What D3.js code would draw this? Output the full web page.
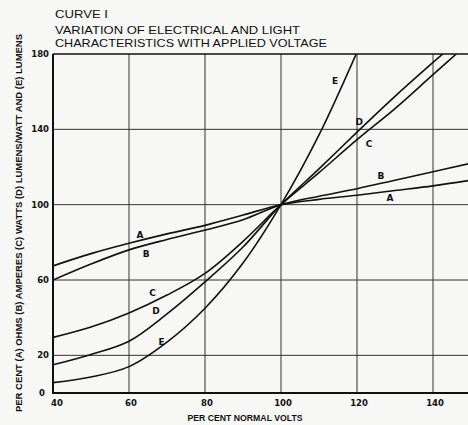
<!DOCTYPE html>
<html>
<head>
<meta charset="utf-8">
<script src="https://cdn.jsdelivr.net/npm/d3@7"></script>
<style>
  body { margin: 0; background: #f7f7f5; }
  svg { display: block; }
  text { fill: #111; }
</style>
</head>
<body>
<svg id="chart" width="468" height="425"></svg>
<script>
// per cent normal volts
const volts = [40, 50, 60, 70, 80, 90, 100, 110, 120, 130, 140, 150];

// curves (per cent of normal)
const ohmsA    = [67.5, 74, 79.5, 84.5, 89, 94.5, 100, 102.8, 105, 107.5, 110, 113];
const ampsB    = [60, 68.5, 76, 81.5, 86.5, 92, 100, 104.5, 108.5, 113, 117.5, 122];
const wattsC   = [29.5, 35, 42.5, 52, 63.5, 80.5, 100, 117, 134.5, 151, 169, 187];
const lpwD     = [15, 20.5, 27.5, 42, 59, 77.5, 100, 119, 138.5, 157.5, 175.5, 193];
const lumensE  = [5.5, 8.5, 14, 27, 45, 69, 100, 137, 181];

const seriesNames = ["A", "B", "C", "D", "E"];

// where the letters sit, in chart units
const labelLeftX  = [62.9, 64.5, 66.2, 67.1, 68.6];
const labelLeftY  = [83.9, 73.8, 53.1, 43.7, 27.2];
const labelRightX = [128.7, 126.3, 123.2, 120.6, 114.2];
const labelRightY = [103.4, 115.2, 132.5, 143.8, 166];

const xTicks = [40, 60, 80, 100, 120, 140];
const yTicks = [0, 20, 60, 100, 140, 180];
const xGrid = [60, 80, 100, 120, 140];
const yGrid = [20, 60, 100, 140];

const titleLines = ["CURVE I", "VARIATION OF ELECTRICAL AND LIGHT", "CHARACTERISTICS WITH APPLIED VOLTAGE"];

const svg = d3.select("#chart");

const x = d3.scaleLinear().domain([40, 150]).range([53, 471]);
const y = d3.scaleLinear().domain([0, 180]).range([393, 54]);

svg.append("defs").append("clipPath").attr("id", "plot")
  .append("rect")
  .attr("x", x(40)).attr("y", y(180))
  .attr("width", 468 - x(40)).attr("height", y(0) - y(180));

// grid
svg.append("g").selectAll("line").data(xGrid).enter()
  .append("line")
  .attr("x1", d => x(d)).attr("x2", d => x(d))
  .attr("y1", y(180)).attr("y2", y(0))
  .style("stroke", "#333").style("stroke-width", 1);

svg.append("g").selectAll("line").data(yGrid).enter()
  .append("line")
  .attr("x1", x(40)).attr("x2", 468)
  .attr("y1", d => y(d)).attr("y2", d => y(d))
  .style("stroke", "#333").style("stroke-width", 1);

// frame: left, bottom, top
svg.append("line").attr("x1", x(40)).attr("x2", x(40)).attr("y1", y(180)).attr("y2", y(0))
  .style("stroke", "#111").style("stroke-width", 2);
svg.append("line").attr("x1", x(40) - 1).attr("x2", 468).attr("y1", y(0)).attr("y2", y(0))
  .style("stroke", "#111").style("stroke-width", 2);
svg.append("line").attr("x1", x(40)).attr("x2", 468).attr("y1", y(180)).attr("y2", y(180))
  .style("stroke", "#111").style("stroke-width", 1.5);

// curves
const line = d3.line()
  .x((d, i) => x(volts[i]))
  .y(d => y(d))
  .curve(d3.curveCatmullRom.alpha(0.5));

const curves = [ohmsA, ampsB, wattsC, lpwD, lumensE];
svg.append("g").attr("clip-path", "url(#plot)")
  .selectAll("path").data(curves).enter()
  .append("path")
  .attr("d", d => line(d))
  .style("fill", "none")
  .style("stroke", "#111")
  .style("stroke-width", 1.6);

// curve letters
const letterFont = "'DejaVu Sans', sans-serif";
seriesNames.forEach(function (n, i) {
  svg.append("text").attr("x", x(labelLeftX[i])).attr("y", y(labelLeftY[i]))
    .attr("text-anchor", "middle").attr("dy", "0.35em")
    .style("font-family", letterFont).style("font-size", "9px").style("font-weight", "bold")
    .text(n);
  svg.append("text").attr("x", x(labelRightX[i])).attr("y", y(labelRightY[i]))
    .attr("text-anchor", "middle").attr("dy", "0.35em")
    .style("font-family", letterFont).style("font-size", "9px").style("font-weight", "bold")
    .text(n);
});

// tick labels
svg.append("g").selectAll("text").data(xTicks).enter()
  .append("text")
  .attr("x", d => x(d) + (d == 40 ? 4 : 2))
  .attr("y", 406)
  .attr("text-anchor", "middle")
  .style("font-family", letterFont).style("font-size", "8.5px").style("font-weight", "bold")
  .text(d => d);

svg.append("g").selectAll("text").data(yTicks).enter()
  .append("text")
  .attr("x", d => d == 0 ? 45 : 49)
  .attr("y", d => y(d))
  .attr("dy", "0.35em")
  .attr("text-anchor", "end")
  .style("font-family", letterFont).style("font-size", "8.5px").style("font-weight", "bold")
  .text(d => d);

// axis titles, shrunk if the narrow face is missing
const narrow = "'Liberation Sans Narrow', 'Liberation Sans', sans-serif";
function fitText(t, size, len) {
  t.style("font-size", size + "px");
  var w = t.node().getComputedTextLength();
  if (w > len) t.style("font-size", (size * len / w) + "px");
  t.attr("textLength", len).attr("lengthAdjust", "spacingAndGlyphs");
}

var xt = svg.append("text")
  .attr("x", 245).attr("y", 421)
  .attr("text-anchor", "middle")
  .style("font-family", narrow).style("font-weight", "bold")
  .text("PER CENT NORMAL VOLTS");
fitText(xt, 9.5, 115);

var yt = svg.append("text")
  .attr("transform", "translate(22,412) rotate(-90)")
  .attr("x", 0).attr("y", 0)
  .style("font-family", narrow).style("font-weight", "bold")
  .text("PER CENT (A) OHMS (B) AMPERES (C) WATTS (D) LUMENS/WATT AND (E) LUMENS");
fitText(yt, 10.5, 378);

// title
const titleY = [18, 34, 47];
const titleW = [53, 245, 272];
titleLines.forEach(function (t, i) {
  svg.append("text")
    .attr("x", 55).attr("y", titleY[i])
    .attr("textLength", titleW[i]).attr("lengthAdjust", "spacingAndGlyphs")
    .style("font-family", "'Liberation Sans', sans-serif").style("font-size", "11.5px")
    .text(t);
});
</script>
</body>
</html>
